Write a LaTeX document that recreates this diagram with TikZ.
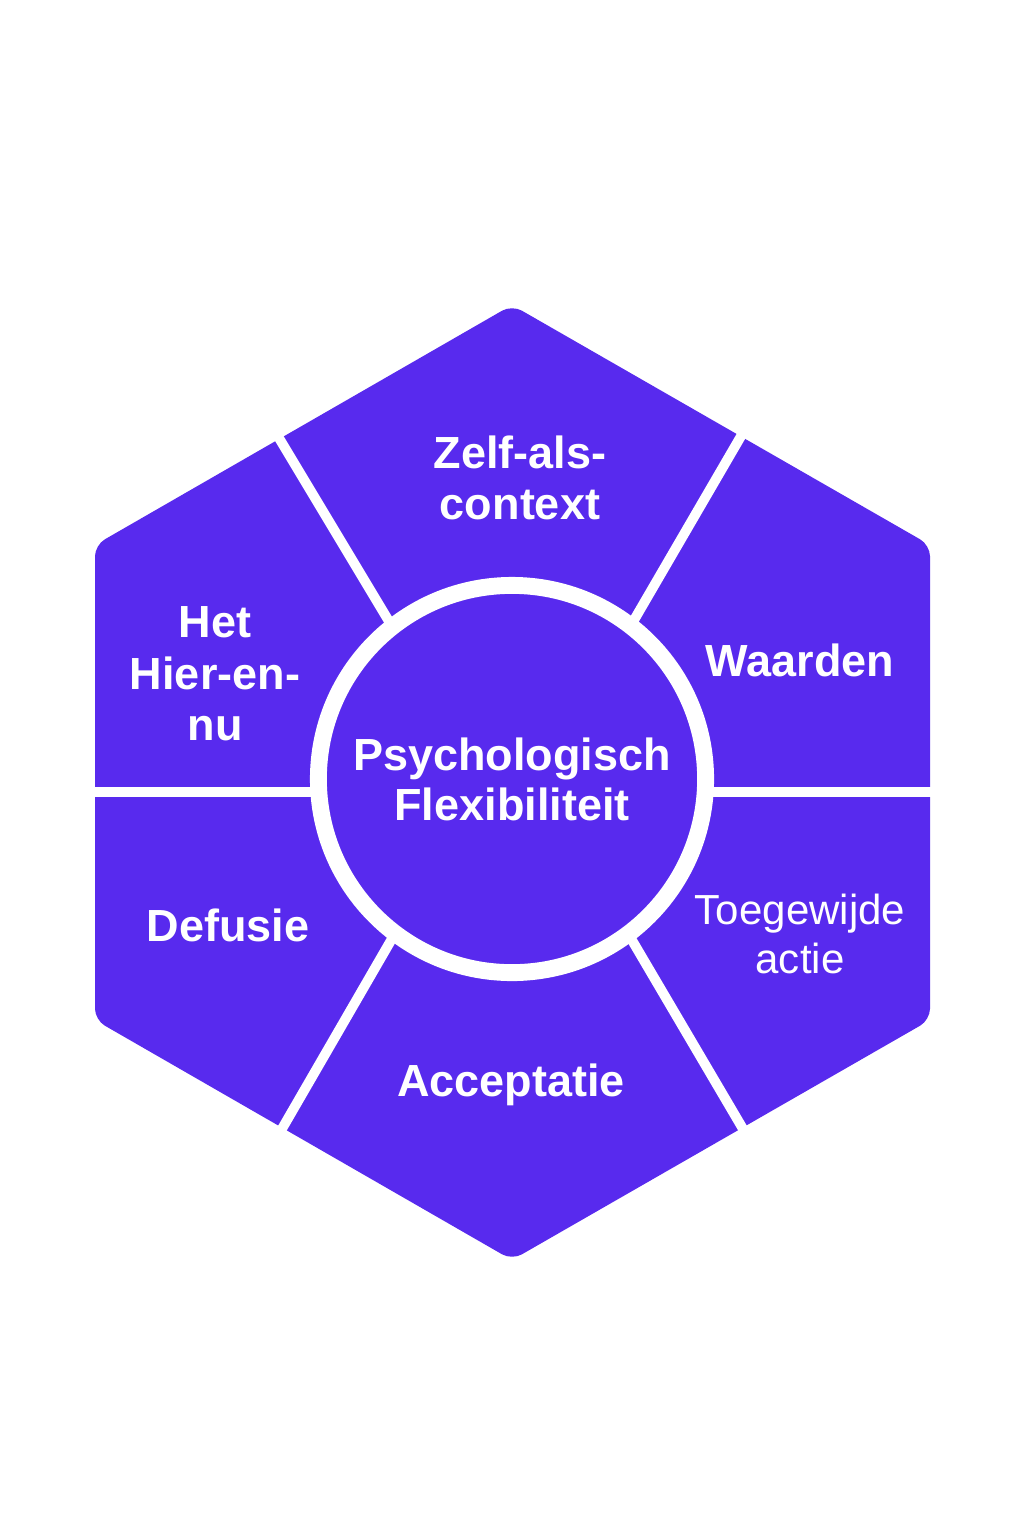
\documentclass[tikz,border=0pt]{standalone}
\usepackage{fontspec}
\setmainfont{Liberation Sans}
\definecolor{actpaars}{HTML}{582AEE}
\tikzset{
  vlak/.style={fill=actpaars, rounded corners=3.2pt},
  scheiding/.style={draw=white, line width=2.8pt},
  kern/.style={circle, fill=actpaars, draw=white, line width=4.8pt, minimum size=3.87cm,
               inner sep=0pt, text=white, align=center,
               font=\bfseries\fontsize{12.8}{14.2}\selectfont},
  proces/.style={text=white, align=center, inner sep=0pt,
                 font=\bfseries\fontsize{12.8}{14.6}\selectfont},
}
\begin{document}
\begin{tikzpicture}[x=0.01cm, y=-0.01cm]
  \useasboundingbox (0,0) rectangle (1024,1536);
  % zeshoek
  \coordinate (top) at (512,305);
  \coordinate (rb) at (930,545);
  \coordinate (ro) at (930,1020);
  \coordinate (bodem) at (512,1260);
  \coordinate (lo) at (95,1020);
  \coordinate (lb) at (95,545);
  \fill[vlak] (top) -- (rb) -- (ro) -- (bodem) -- (lo) -- (lb) -- cycle;
  % scheidingslijnen
  \coordinate (lbrand) at (276,433);  \coordinate (lbin) at (396,633);
  \coordinate (rbrand) at (744,431);  \coordinate (rbin) at (630,627);
  \coordinate (lorand) at (279,1134); \coordinate (loin) at (397,930);
  \coordinate (rorand) at (746,1134); \coordinate (roin) at (626,930);
  \coordinate (lrand) at (88,792);    \coordinate (lin) at (330,792);
  \coordinate (rrand) at (937,792);   \coordinate (rin) at (694,792);
  \draw[scheiding] (lbrand) -- (lbin);
  \draw[scheiding] (rbrand) -- (rbin);
  \draw[scheiding] (lorand) -- (loin);
  \draw[scheiding] (rorand) -- (roin);
  \draw[scheiding] (lrand) -- (lin);
  \draw[scheiding] (rrand) -- (rin);
  % kern en processen
  \node[kern] (kern) at (512,779) {Psychologisch\\Flexibiliteit};
  \node[proces] (zelf) at (520,478) {Zelf-als-\\context};
  \node[proces] (hier) at (215,674) {Het\\Hier-en-\\nu};
  \node[proces] (waarden) at (800,660) {Waarden};
  \node[proces] (defusie) at (228,925) {Defusie};
  \node[proces, font=\fontsize{11.95}{13.7}\selectfont] (actie) at (800,934) {Toegewijde\\actie};
  \node[proces] (acceptatie) at (511,1085) {Acceptatie};
\end{tikzpicture}
\end{document}
